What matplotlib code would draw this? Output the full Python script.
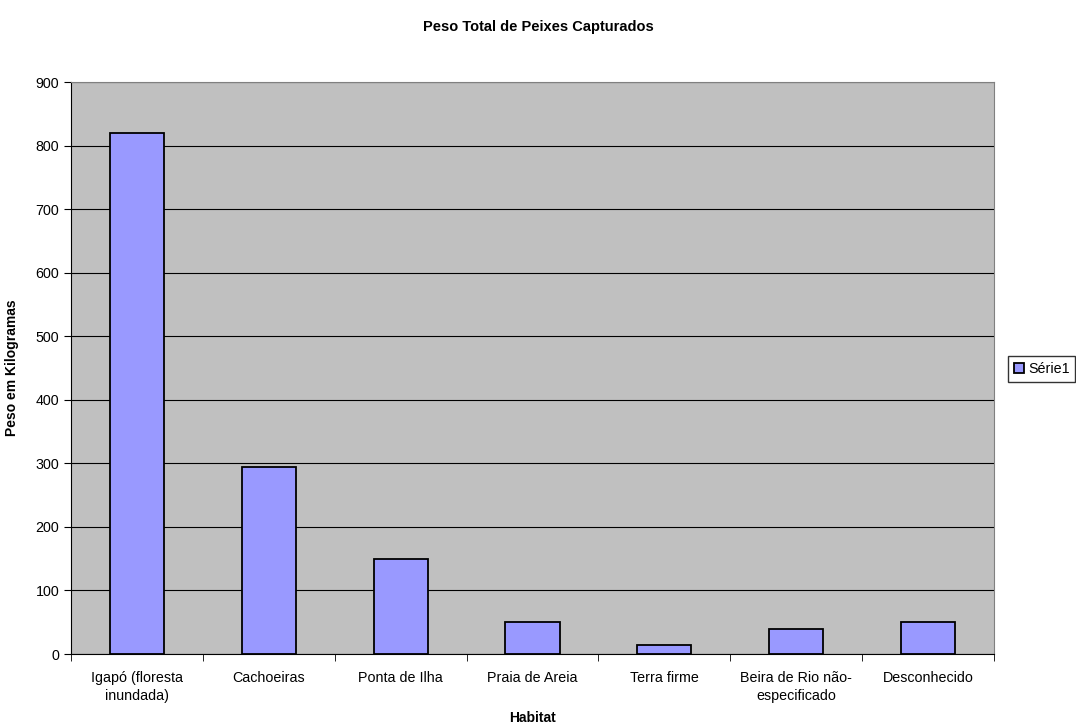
import matplotlib.pyplot as plt
import numpy as np

plt.rcParams['font.family'] = ['Liberation Sans', 'DejaVu Sans']

habitats = ['Igapó (floresta\ninundada)', 'Cachoeiras', 'Ponta de Ilha',
            'Praia de Areia', 'Terra firme', 'Beira de Rio não-\nespecificado',
            'Desconhecido']
peso = [820, 295, 149, 50, 14, 40, 50]

fig = plt.figure(figsize=(10.76, 7.28), dpi=100)
ax = fig.add_axes([71/1076, 1 - 654/728, (994 - 71)/1076, (654 - 82)/728])
ax.set_facecolor('#C0C0C0')

x = np.arange(len(habitats))
ax.bar(x, peso, width=0.41, color='#9999FF', edgecolor='black', linewidth=1.3,
       label='Série1', zorder=3)

ax.set_xlim(-0.5, len(habitats) - 0.5)
ax.set_ylim(0, 900)
ax.set_yticks(range(0, 901, 100))
ax.yaxis.grid(True, color='black', linewidth=0.8, zorder=1)
ax.set_axisbelow(True)

ax.set_xticks(x)
ax.set_xticklabels(habitats, fontsize=10.3, linespacing=1.4)
ax.set_xticks(np.arange(-0.5, len(habitats)), minor=True)
ax.tick_params(axis='x', which='major', length=0, pad=12)
ax.tick_params(axis='x', which='minor', length=5, color='black')
ax.tick_params(axis='y', labelsize=10.3, length=5, color='black')

for s in ['top', 'right']:
    ax.spines[s].set_color('#808080')
for s in ['left', 'bottom']:
    ax.spines[s].set_color('black')

ax.set_ylabel('Peso em Kilogramas', fontsize=10, fontweight='bold', labelpad=12)
fig.text((71 + 994) / 2 / 1076, 1 - 718/728, 'Habitat', ha='center',
         va='center', fontsize=10, fontweight='bold')
fig.text(0.5, 1 - 27/728, 'Peso Total de Peixes Capturados', ha='center',
         va='center', fontsize=10.5, fontweight='bold')

leg = fig.legend(loc='center left', bbox_to_anchor=(1008/1076, 1 - 369/728),
                 fontsize=10.3, frameon=True, fancybox=False, edgecolor='black',
                 handlelength=0.7, handleheight=0.7, handletextpad=0.3,
                 borderpad=0.4, borderaxespad=0)
leg.get_frame().set_linewidth(1.0)

fig.savefig('out.png', dpi=100)
